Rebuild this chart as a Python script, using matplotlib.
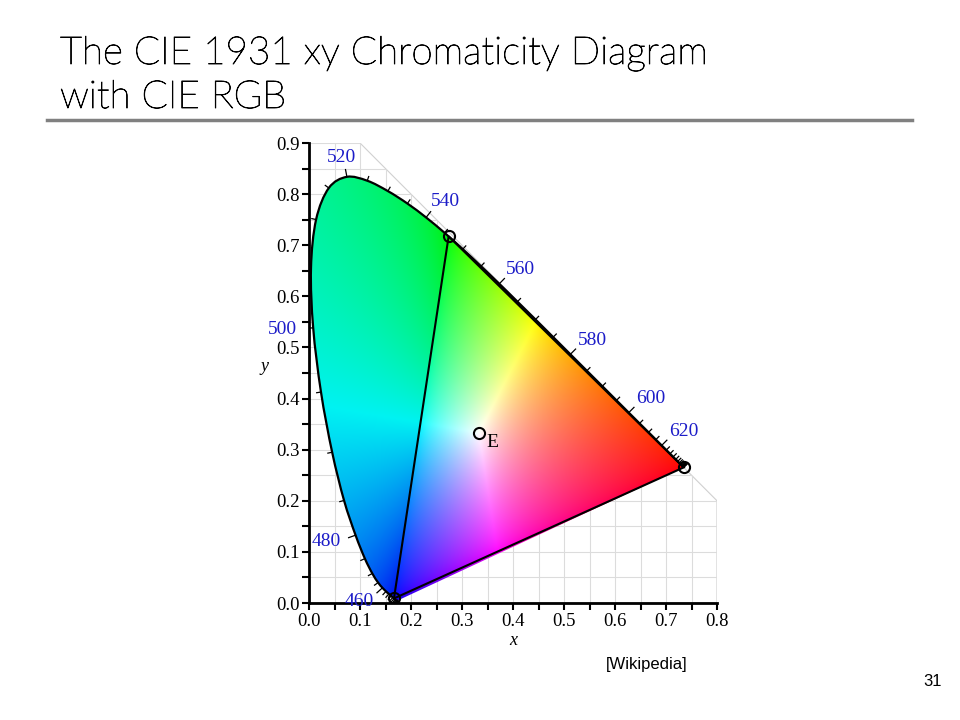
import matplotlib
matplotlib.use('Agg')
import matplotlib.pyplot as plt
import matplotlib.patheffects as pe
import numpy as np
from matplotlib.patches import Polygon, PathPatch
from matplotlib.path import Path
from matplotlib.collections import LineCollection

# CIE 1931 2-degree spectral locus, 5 nm steps
wl = np.arange(380, 701, 5)
loc_x = [0.1741, 0.1740, 0.1738, 0.1736, 0.1733, 0.1730, 0.1726, 0.1721, 0.1714, 0.1703,
         0.1689, 0.1669, 0.1644, 0.1611, 0.1566, 0.1510, 0.1440, 0.1355, 0.1241, 0.1096,
         0.0913, 0.0687, 0.0454, 0.0235, 0.0082, 0.0039, 0.0139, 0.0389, 0.0743, 0.1142,
         0.1547, 0.1929, 0.2296, 0.2658, 0.3016, 0.3373, 0.3731, 0.4087, 0.4441, 0.4788,
         0.5125, 0.5448, 0.5752, 0.6029, 0.6270, 0.6482, 0.6658, 0.6801, 0.6915, 0.7006,
         0.7079, 0.7140, 0.7190, 0.7230, 0.7260, 0.7283, 0.7300, 0.7311, 0.7320, 0.7327,
         0.7334, 0.7340, 0.7344, 0.7346, 0.7347]
loc_y = [0.0050, 0.0050, 0.0049, 0.0049, 0.0048, 0.0048, 0.0048, 0.0048, 0.0051, 0.0058,
         0.0069, 0.0086, 0.0109, 0.0138, 0.0177, 0.0227, 0.0297, 0.0399, 0.0578, 0.0868,
         0.1327, 0.2007, 0.2950, 0.4127, 0.5384, 0.6548, 0.7502, 0.8120, 0.8338, 0.8262,
         0.8059, 0.7816, 0.7543, 0.7243, 0.6923, 0.6589, 0.6245, 0.5896, 0.5547, 0.5202,
         0.4866, 0.4544, 0.4242, 0.3965, 0.3725, 0.3514, 0.3340, 0.3197, 0.3083, 0.2993,
         0.2920, 0.2859, 0.2809, 0.2770, 0.2740, 0.2717, 0.2700, 0.2689, 0.2680, 0.2673,
         0.2666, 0.2660, 0.2654, 0.2654, 0.2653]
label_wl = [460, 480, 500, 520, 540, 560, 580, 600, 620]

# CIE RGB primaries (700, 546.1, 435.8 nm) and white point E
prim_x = [0.7347, 0.2738, 0.1666]
prim_y = [0.2653, 0.7174, 0.0089]
white_x, white_y = 1/3, 1/3

# CIE RGB -> XYZ
M = np.array([[0.49, 0.31, 0.20],
              [0.17697, 0.81240, 0.01063],
              [0.00, 0.01, 0.99]])


def smooth_path(xs, ys, close=False):
    # draw the polyline as a smooth bezier curve through the points
    P = np.column_stack([xs, ys])
    n = len(P)
    verts = [P[0]]
    codes = [Path.MOVETO]
    for i in range(n - 1):
        p0 = P[max(i - 1, 0)]
        p1 = P[i]
        p2 = P[i + 1]
        p3 = P[min(i + 2, n - 1)]
        verts += [p1 + (p2 - p0) / 6, p2 - (p3 - p1) / 6, p2]
        codes += [Path.CURVE4] * 3
    if close:
        verts += [P[0], P[0]]
        codes += [Path.LINETO, Path.CLOSEPOLY]
    return Path(np.array(verts), codes)


fig = plt.figure(figsize=(9.6, 7.2), dpi=100)

# slide title + rule
title_font = dict(family='Lato', weight='light', size=27.8, color='black',
                  path_effects=[pe.withStroke(linewidth=0.6, foreground='black')])
fig.text(60/960, 1-64/720, 'The CIE 1931 xy Chromaticity Diagram', va='baseline', **title_font)
fig.text(60/960, 1-108/720, 'with CIE RGB', va='baseline', **title_font)
fig.add_artist(plt.Line2D([47/960, 912/960], [1-120/720, 1-120/720], color='#808080', lw=2.5))
fig.text(647/960, 1-665/720, '[Wikipedia]', ha='center', va='center', family='Liberation Sans', size=12)
fig.text(933/960, 1-681/720, '31', ha='center', va='center', family='Liberation Sans', size=12)

ax = fig.add_axes([309/960, 1-603/720, 408/960, 460/720])
ax.set_xlim(0, 0.8)
ax.set_ylim(0, 0.9)
px = 510.0  # pixels per data unit

# grid, bounded by x+y<=1
bound = Polygon([(0, 0), (0.8, 0), (0.8, 0.2), (0.1, 0.9), (0, 0.9)], closed=True,
                fill=False, edgecolor='#d0d0d0', lw=0.8, transform=ax.transData, zorder=0)
ax.add_patch(bound)
gl = []
for v in np.arange(0.05, 0.81, 0.05):
    gl.append([(v, 0), (v, 0.9)])
for v in np.arange(0.05, 0.91, 0.05):
    gl.append([(0, v), (0.8, v)])
grid = LineCollection(gl, colors='#dcdcdc', linewidths=0.8, zorder=0)
ax.add_collection(grid)
grid.set_clip_path(bound)

# colour fill: xy -> CIE RGB, out-of-gamut colours desaturated with white
xs = np.linspace(0, 0.8, 800)
ys = np.linspace(0.002, 0.9, 900)
X, Y = np.meshgrid(xs, ys)
XYZ = np.stack([X / Y, np.ones_like(X), (1 - X - Y) / Y], axis=-1)
rgb = XYZ @ np.linalg.inv(M).T
neg = np.minimum(rgb.min(axis=-1, keepdims=True), 0)
rgb = np.clip(rgb - neg, 0, None)
rgb = rgb / np.maximum(rgb.max(axis=-1, keepdims=True), 1e-9)
rgb = rgb ** (1/1.5)
rgb = rgb * np.where(neg < 0, 0.95, 1.0)
img = ax.imshow(rgb, origin='lower', extent=(0, 0.8, 0.002, 0.9), interpolation='bilinear',
                aspect='auto', zorder=1)
clip = PathPatch(smooth_path(loc_x, loc_y, close=True), transform=ax.transData)
img.set_clip_path(clip)

# outline of spectral locus
ax.add_patch(PathPatch(smooth_path(loc_x, loc_y), fill=False, edgecolor='black', lw=1.6,
                       zorder=3, joinstyle='round'))

# wavelength ticks and labels
lx = np.array(loc_x)
ly = np.array(loc_y)
segs = []
for i, w in enumerate(wl):
    a = max(i - 1, 0)
    b = min(i + 1, len(wl) - 1)
    tx, ty = lx[b] - lx[a], ly[b] - ly[a]
    n = np.hypot(tx, ty)
    nx, ny = -ty / n, tx / n
    L = (8 if w in label_wl else 5) / px
    segs.append([(lx[i], ly[i]), (lx[i] + nx * L, ly[i] + ny * L)])
    if w in label_wl:
        ax.text(lx[i] + nx * 31 / px, ly[i] + ny * 20 / px, str(w), ha='center', va='center',
                color='#1c1cc8', family='Liberation Serif', size=14, zorder=5)
ax.add_collection(LineCollection(segs, colors='black', linewidths=0.9, zorder=3))

# CIE RGB triangle
tri = Polygon(np.column_stack([prim_x, prim_y]), closed=True, fill=False,
              edgecolor='black', lw=1.5, zorder=4)
ax.add_patch(tri)
ax.plot(prim_x, prim_y, 'o', mfc='none', mec='black', ms=8, mew=1.5, zorder=5)
ax.plot([white_x], [white_y], 'o', mfc='none', mec='black', ms=8, mew=1.5, zorder=5)
ax.annotate('E', (white_x, white_y), xytext=(10, -7), textcoords='offset points',
            ha='center', va='center', family='Liberation Serif', size=14, zorder=5)

# axes styling
for s in ['top', 'right']:
    ax.spines[s].set_visible(False)
for s in ['left', 'bottom']:
    ax.spines[s].set_linewidth(2)
ax.set_xticks(np.arange(0, 0.81, 0.1))
ax.set_yticks(np.arange(0, 0.91, 0.1))
ax.set_xticks(np.arange(0.05, 0.8, 0.1), minor=True)
ax.set_yticks(np.arange(0.05, 0.9, 0.1), minor=True)
ax.set_xticklabels(['%.1f' % v for v in np.arange(0, 0.81, 0.1)])
ax.set_yticklabels(['%.1f' % v for v in np.arange(0, 0.91, 0.1)])
ax.tick_params(which='both', direction='out', length=5, width=1.5, labelsize=13.5, pad=2)
for lab in ax.get_xticklabels() + ax.get_yticklabels():
    lab.set_family('Liberation Serif')
ax.set_xlabel('x', family='Liberation Serif', style='italic', size=13)
ax.set_ylabel('y', family='Liberation Serif', style='italic', size=13, rotation=0)
ax.xaxis.set_label_coords(0.5, -0.062)
ax.yaxis.set_label_coords(-0.108, 0.496)
ax.patch.set_visible(False)

fig.savefig('out.png', dpi=100)
